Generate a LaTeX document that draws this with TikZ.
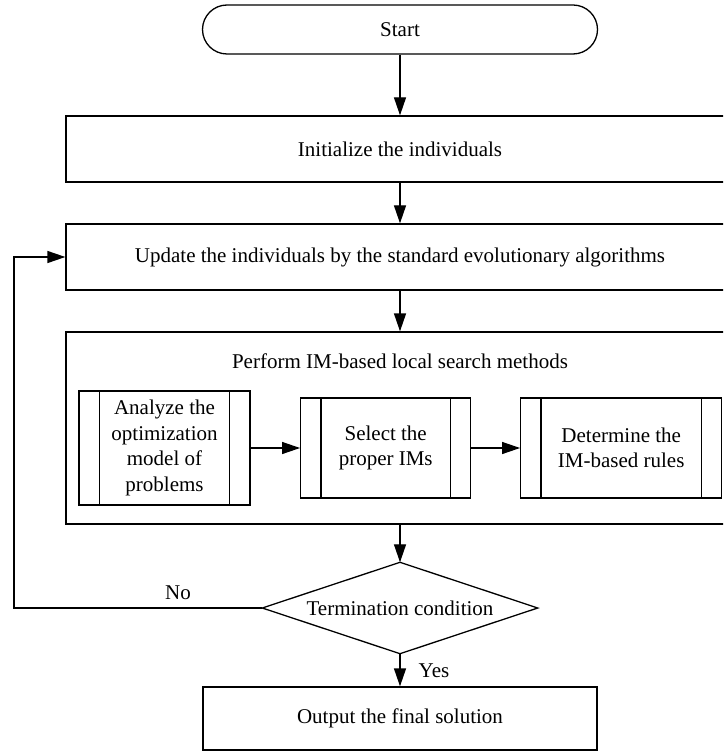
\documentclass[tikz,border=0pt]{standalone}
\usepackage{fontspec}
\setmainfont{Liberation Serif}
\usetikzlibrary{arrows.meta}
\begin{document}
\begin{tikzpicture}[x=1pt,y=-1pt,
  every node/.style={font=\fontsize{21}{25.5}\selectfont, inner sep=0pt, align=center},
  box/.style={draw, line width=1.3pt, rectangle},
  term/.style={draw, line width=1.3pt, rectangle, rounded corners=24.5pt},
  subproc/.style={draw, line width=1.3pt, rectangle},
  bar/.style={line width=1.3pt},
  arr/.style={line width=1.3pt, -{Triangle[length=18pt,width=12pt]}},
  lbl/.style={font=\fontsize{21}{25.5}\selectfont}]
\path[use as bounding box, clip] (0,0) rectangle (723,751);
\fill[white] (0,0) rectangle (723,751);

\node[term, minimum width=395, minimum height=49] (start) at (400,29.5) {Start};
\node[box, minimum width=668, minimum height=66] (init) at (400,149) {Initialize the individuals};
\node[box, minimum width=668, minimum height=66] (update) at (400,257) {Update the individuals by the standard evolutionary algorithms};
\node[box, minimum width=668, minimum height=192] (perform) at (400,428) {};
\node (ptitle) at (400,361) {Perform IM-based local search methods};

\node[subproc, minimum width=171, minimum height=114] (s1) at (164.5,448) {Analyze the\\optimization\\model of\\problems};
\node[subproc, minimum width=170, minimum height=100] (s2) at (385.7,448) {Select the\\proper IMs};
\node[subproc, minimum width=201, minimum height=100] (s3) at (621.2,448) {Determine the\\IM-based rules};
\foreach \s in {s1,s2,s3}{
  \draw[bar] ([xshift=21pt]\s.north west) -- ([xshift=21pt]\s.south west);
  \draw[bar] ([xshift=-21pt]\s.north east) -- ([xshift=-21pt]\s.south east);
}

\node[minimum width=275, minimum height=91] (cond) at (400,608) {Termination condition};
\draw[line width=1.3pt] (cond.west) -- (cond.north) -- (cond.east) -- (cond.south) -- cycle;

\node[box, minimum width=394, minimum height=63] (out) at (400,718.5) {Output the final solution};

\node[lbl] (no) at (178,593) {No};
\node[lbl] (yes) at (434,671) {Yes};
\coordinate (loopc) at (14,608);

\draw[arr] (start.south) -- (init.north);
\draw[arr] (init.south) -- (update.north);
\draw[arr] (update.south) -- (perform.north);
\draw[arr] (perform.south) -- (cond.north);
\draw[arr] (cond.south) -- (out.north);
\draw[arr] (s1.east) -- (s2.west);
\draw[arr] (s2.east) -- (s3.west);
\draw[arr] (cond.west) -- (loopc) |- (update.west);
\end{tikzpicture}
\end{document}
